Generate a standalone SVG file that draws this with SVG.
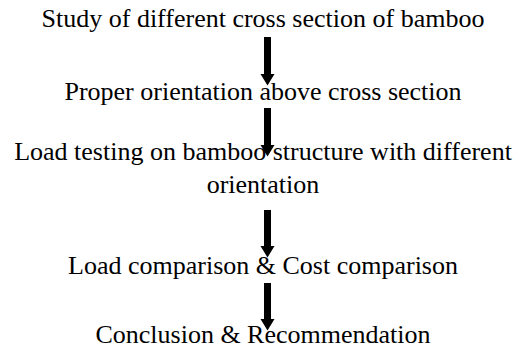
<svg xmlns="http://www.w3.org/2000/svg" width="530" height="350" viewBox="0 0 530 350">
<style>
.t{font-family:"Liberation Serif","Times New Roman",serif;font-size:26px;fill:#000;text-anchor:middle}
.a{fill:#000}
</style>
<rect width="530" height="350" fill="#fff"/>
<g id="connectors">
<polygon class="a" points="264,37 271,37 271,74 274.5,74 267.5,85.5 260.5,74 264,74"/>
<polygon class="a" points="264,108 271,108 271,145 274.5,145 267.5,156.5 260.5,145 264,145"/>
<polygon class="a" points="264,210 271,210 271,246 274.5,246 267.5,257.5 260.5,246 264,246"/>
<polygon class="a" points="264,283 271,283 271,319 274.5,319 267.5,330.5 260.5,319 264,319"/>
</g>
<g id="n1"><text class="t" x="263" y="27">Study of different cross section of bamboo</text></g>
<g id="n2"><text class="t" x="263" y="100">Proper orientation above cross section</text></g>
<g id="n3"><text class="t" x="263" y="160">Load testing on bamboo structure with different</text><text class="t" x="263" y="193">orientation</text></g>
<g id="n4"><text class="t" x="263" y="274">Load comparison &amp; Cost comparison</text></g>
<g id="n5"><text class="t" x="263" y="343">Conclusion &amp; Recommendation</text></g>
</svg>
